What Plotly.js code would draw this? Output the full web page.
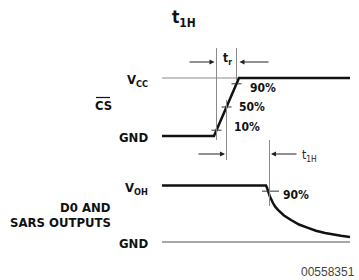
<!DOCTYPE html>
<html><head><meta charset="utf-8">
<script src="https://cdn.plot.ly/plotly-3.0.1.min.js"></script>
<style>html,body{margin:0;padding:0;background:#fff}#chart{width:359px;height:280px}</style>
</head><body><div id="chart"></div>
<script>
// ---- data (time in diagram units, levels normalised 0 = GND, 1 = high) ----
const csTime   = [162, 214, 239, 350];
const csLevel  = [0, 0, 1, 1];
const csRefTime = [162, 239];          // thin VCC reference
const outTime  = [162, 266, 267, 268, 270, 273, 275, 278, 284, 291, 299, 308, 316, 325, 333, 341, 350];
const outLevel = [1, 1, 0.96, 0.90, 0.80, 0.69, 0.63, 0.57, 0.47, 0.39, 0.31, 0.25, 0.20, 0.16, 0.13, 0.11, 0.09];
const outRefTime = [162, 350];         // thin GND reference
const csMarks = [0.1, 0.5, 0.9];
const csMarkLabels = ['10%', '50%', '90%'];
const outMark = 0.9;
const outMarkLabel = '90%';
const labelText = {title:'t<sub>1H</sub>', tr:'t<sub>r</sub>', t1h:'t<sub>1H</sub>', vcc:'V<sub>CC</sub>', gnd:'GND',
  voh:'V<sub>OH</sub>', cs:'CS', out1:'D0 AND', out2:'SARS OUTPUTS', code:'00558351'};

// ---- helpers ----
const W = 359, H = 280;
const py = p => (H - p) / H;
function crossTime(t, l, v) {
  for (let i = 0; i < t.length - 1; i++) {
    const a = l[i], b = l[i+1];
    if ((a - v) * (b - v) <= 0 && a !== b) return t[i] + (v - a) / (b - a) * (t[i+1] - t[i]);
  }
  return t[0];
}
const csMarkT = csMarks.map(v => crossTime(csTime, csLevel, v));
const outMarkT = crossTime(outTime, outLevel, outMark);

const FONT = 'Liberation Sans Narrow, DejaVu Sans Condensed, Arial Narrow, sans-serif';
const ink = '#111', thin = '#8a8a8a';

const traces = [];
traces.push({x: csRefTime, y: csRefTime.map(() => 1), mode:'lines', line:{color:thin, width:1}, xaxis:'x', yaxis:'y', hoverinfo:'skip'});
traces.push({x: outRefTime, y: outRefTime.map(() => 0), mode:'lines', line:{color:thin, width:1.5}, xaxis:'x', yaxis:'y2', hoverinfo:'skip'});
traces.push({x: csTime, y: csLevel, mode:'lines', line:{color:ink, width:2.5}, xaxis:'x', yaxis:'y', hoverinfo:'skip'});
traces.push({x: outTime, y: outLevel, mode:'lines', line:{color:ink, width:2.5}, xaxis:'x', yaxis:'y2', hoverinfo:'skip'});
csMarks.forEach((v, i) => {
  traces.push({x:[csMarkT[i]-5, csMarkT[i]+5], y:[v, v], mode:'lines', line:{color:'#333', width:1}, xaxis:'x', yaxis:'y', hoverinfo:'skip'});
});
traces.push({x:[outMarkT-6, outMarkT+11], y:[outMark, outMark], mode:'lines', line:{color:'#333', width:1}, xaxis:'x', yaxis:'y2', hoverinfo:'skip'});

const vline = (t, p0, p1) => ({type:'line', xref:'x', yref:'paper', x0:t, x1:t, y0:py(p0), y1:py(p1), line:{color:thin, width:1}});
const shapes = [
  vline(csMarkT[0], 48, 140),
  vline(csMarkT[2], 48, 80),
  vline(csMarkT[1], 100, 160),
  vline(outMarkT + 1.5, 140, 206),
  {type:'line', xref:'paper', yref:'paper', x0:96/W, x1:110/W, y0:py(97.5), y1:py(97.5), line:{color:ink, width:1.2}}
];

const arrow = (head, tail, p) => ({x: head, y: py(p), xref:'x', yref:'paper', ax: tail - head, ay: 0, axref:'pixel', ayref:'pixel',
  text:'', showarrow:true, arrowhead:2, arrowsize:1, arrowwidth:1, arrowcolor:'#222', standoff:0, startstandoff:0});
const lab = (txt, x, y, anchor, size, extra) => Object.assign({text: txt, x: x / W, y: py(y), xref:'paper', yref:'paper',
  xanchor: anchor, yanchor:'middle', showarrow:false, font:{family:FONT, size:size, color:ink, weight:'bold'}}, extra || {});

const annotations = [
  arrow(csMarkT[0] - 2, 188, 62),
  arrow(csMarkT[2] + 3, 270, 62),
  arrow(csMarkT[1] - 1.5, 197, 154),
  arrow(outMarkT + 3, 298, 154),
  lab(labelText.title, 184, 19, 'center', 17),
  lab(labelText.tr, 228, 59, 'center', 12),
  lab(labelText.t1h, 300, 156, 'left', 12, {font:{family:FONT, size:12, color:'#222'}}),
  lab(labelText.vcc, 150, 80, 'right', 13),
  lab(labelText.gnd, 150, 137, 'right', 13),
  lab(labelText.cs, 103, 105.5, 'center', 13),
  lab(labelText.voh, 150, 188, 'right', 13),
  lab(labelText.gnd, 150, 243, 'right', 13),
  lab(labelText.out1, 113, 207, 'right', 13),
  lab(labelText.out2, 113, 222, 'right', 13),
  lab(csMarkLabels[2], 248, 88, 'left', 12),
  lab(csMarkLabels[1], 237, 107, 'left', 12),
  lab(csMarkLabels[0], 232, 127, 'left', 12),
  lab(outMarkLabel, 281, 195, 'left', 12),
  lab(labelText.code, 357, 272, 'right', 12, {font:{family:'Liberation Sans, Arial, sans-serif', size:12, color:'#444'}})
];

const layout = {
  width: W, height: H, margin:{l:0, r:0, t:0, b:0, pad:0},
  paper_bgcolor:'#fff', plot_bgcolor:'rgba(0,0,0,0)', showlegend:false,
  xaxis:{range:[0, W], domain:[0,1], visible:false, fixedrange:true},
  yaxis:{range:[-0.6, 1.6], domain:[py(136 + 0.6*58), py(78 - 0.6*58)], visible:false, fixedrange:true},
  yaxis2:{range:[-0.4, 1.6], domain:[py(242 + 0.4*56.5), py(185.5 - 0.6*56.5)], visible:false, fixedrange:true},
  shapes: shapes, annotations: annotations
};
Plotly.newPlot('chart', traces, layout, {staticPlot:true, displayModeBar:false});
</script></body></html>
